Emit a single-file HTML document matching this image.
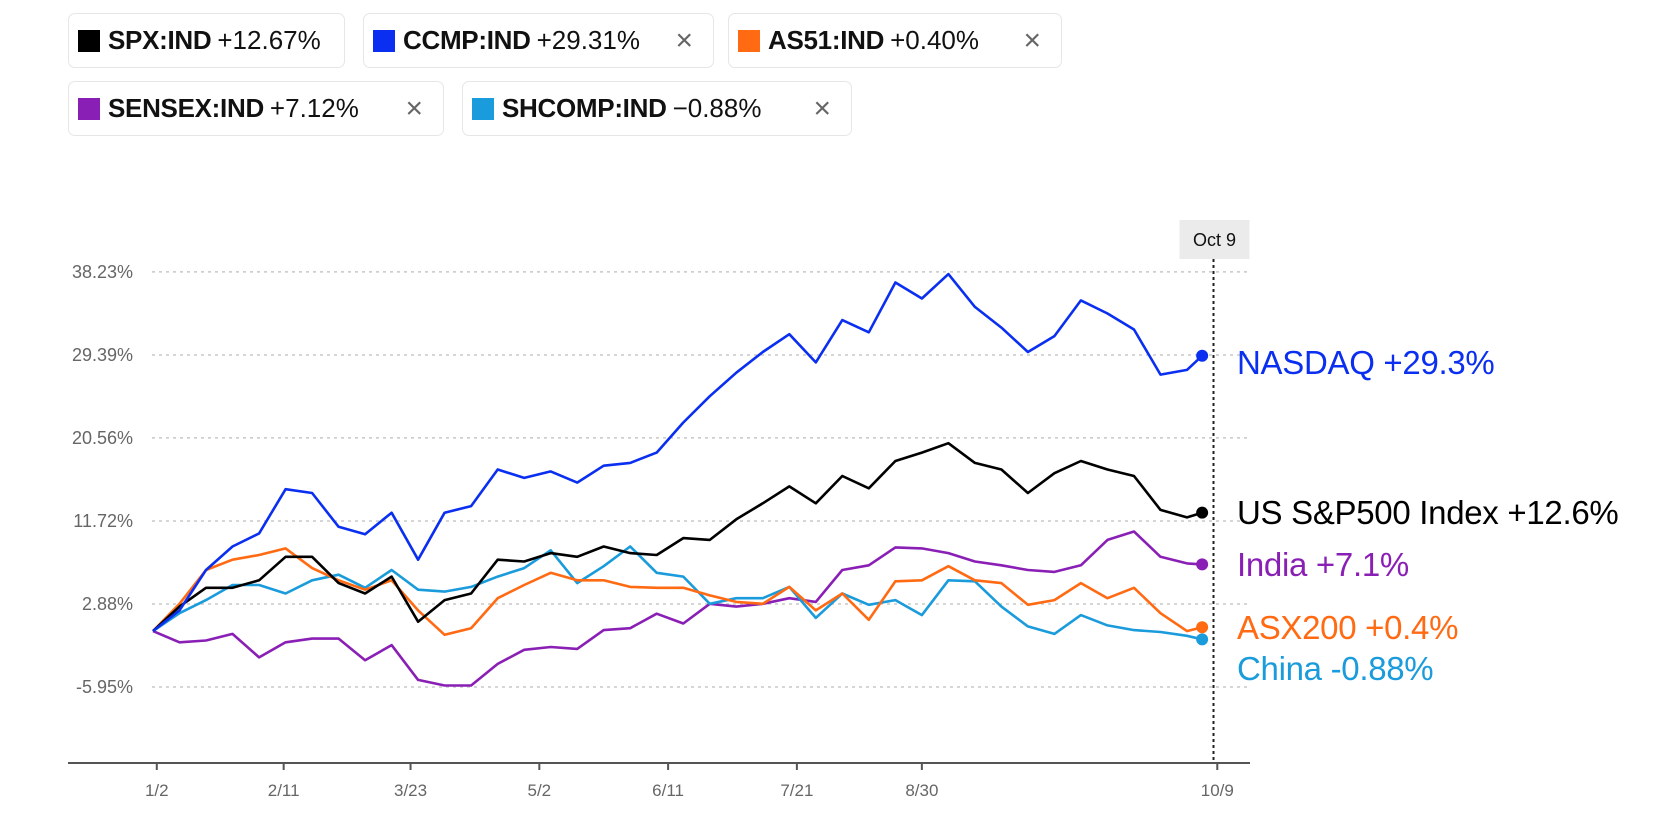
<!DOCTYPE html>
<html><head><meta charset="utf-8">
<style>
body{margin:0;background:#fff;width:1662px;height:814px;overflow:hidden;font-family:"Liberation Sans",sans-serif;position:relative}
.lg{position:absolute;height:55px;border:1px solid #e6e6e6;border-radius:7px;box-sizing:border-box;display:flex;align-items:center;font-size:26px;color:#111;white-space:nowrap}
.sw{width:22px;height:22px;margin:0 8px 0 9px;flex:none}
.lg b{font-weight:bold;letter-spacing:-0.3px}
.lg span.v{margin-left:6px}
.x{position:absolute;right:20px;top:10px;font-size:30px;color:#666;font-weight:normal}
</style></head>
<body>
<div class="lg" style="left:68px;top:13px;width:277px;"><div class="sw" style="background:#000"></div><b>SPX:IND</b><span class="v">+12.67%</span></div>
<div class="lg" style="left:363px;top:13px;width:351px;"><div class="sw" style="background:#0a2ff0"></div><b>CCMP:IND</b><span class="v">+29.31%</span><span class="x">×</span></div>
<div class="lg" style="left:728px;top:13px;width:334px;"><div class="sw" style="background:#ff6a13"></div><b>AS51:IND</b><span class="v">+0.40%</span><span class="x">×</span></div>
<div class="lg" style="left:68px;top:81px;width:376px;"><div class="sw" style="background:#8a1fb5"></div><b>SENSEX:IND</b><span class="v">+7.12%</span><span class="x">×</span></div>
<div class="lg" style="left:462px;top:81px;width:390px;"><div class="sw" style="background:#1a9bdb"></div><b>SHCOMP:IND</b><span class="v">−0.88%</span><span class="x">×</span></div>

<svg id="chart" width="1662" height="814" style="position:absolute;left:0;top:0" xmlns="http://www.w3.org/2000/svg"></svg>

<script>
const days = [0,7,14,21,28,35,42,49,56,63,70,77,84,91,98,105,112,119,126,133,140,147,154,161,168,175,182,189,196,203,210,217,224,231,238,245,252,259,266,273,277];
const yTicks = [-5.95, 2.88, 11.72, 20.56, 29.39, 38.23];
const xTickDays = [1,34.5,68,102,136,170,203,281];
const xTickLabels = ["1/2","2/11","3/23","5/2","6/11","7/21","8/30","10/9"];
const nasdaq = [0,2.2,6.5,9.0,10.4,15.1,14.7,11.1,10.3,12.6,7.6,12.6,13.3,17.2,16.3,17.0,15.8,17.6,17.9,19.0,22.2,25.0,27.5,29.7,31.6,28.6,33.1,31.8,37.1,35.4,38.0,34.5,32.3,29.7,31.4,35.2,33.8,32.1,27.3,27.8,29.3];
const spx = [0,2.6,4.6,4.6,5.4,7.9,7.9,5.1,4.0,5.8,1.0,3.3,4.0,7.6,7.4,8.3,7.9,9.0,8.3,8.1,9.9,9.7,11.9,13.6,15.4,13.6,16.5,15.2,18.1,19.0,20.0,17.9,17.2,14.7,16.8,18.1,17.2,16.5,12.9,12.1,12.6];
const asx = [0,2.9,6.5,7.6,8.1,8.8,6.7,5.4,4.4,5.4,2.2,-0.4,0.3,3.5,4.9,6.2,5.4,5.4,4.7,4.6,4.6,3.8,3.1,2.9,4.7,2.2,4.0,1.2,5.3,5.4,6.9,5.4,5.1,2.8,3.3,5.1,3.5,4.6,1.9,0.0,0.4];
const china = [0,1.9,3.3,4.9,4.9,4.0,5.4,6.0,4.6,6.5,4.4,4.2,4.7,5.8,6.7,8.6,5.1,6.9,9.0,6.2,5.8,2.9,3.5,3.5,4.7,1.4,4.0,2.8,3.3,1.7,5.4,5.3,2.6,0.5,-0.3,1.7,0.6,0.1,-0.1,-0.5,-0.88];
const india = [0,-1.2,-1.0,-0.3,-2.8,-1.2,-0.8,-0.8,-3.1,-1.5,-5.2,-5.8,-5.8,-3.5,-2.0,-1.7,-1.9,0.1,0.3,1.85,0.8,2.9,2.6,2.9,3.5,3.1,6.5,7.0,8.9,8.8,8.3,7.4,7.0,6.5,6.3,7.0,9.7,10.6,7.9,7.2,7.1];
const seriesNames = ["nasdaq","spx","india","asx","china"];
const seriesLabels = ["NASDAQ +29.3%","US S&P500 Index +12.6%","India +7.1%","ASX200 +0.4%","China -0.88%"];

const svg = document.getElementById('chart');
const NS = 'http://www.w3.org/2000/svg';
const X = d => 153 + d * 151.5 / 40;
const Y = v => 604 - (v - 2.88) * (83.0 / 8.835);
function mk(tag, attrs, parent) {
  const e = document.createElementNS(NS, tag);
  for (const k in attrs) e.setAttribute(k, attrs[k]);
  (parent || svg).appendChild(e);
  return e;
}
yTicks.forEach(t => {
  const g = mk('line', {x1: 152, x2: 1250, y1: Y(t), y2: Y(t), stroke: '#c8c8c8', 'stroke-width': 1.5, 'stroke-dasharray': '3 4'});
  
  
  const l = mk('text', {x: 133, y: Y(t) + 6, 'text-anchor': 'end', 'font-size': 18, fill: '#666', 'font-family': 'Liberation Sans, sans-serif'});
  l.textContent = t.toFixed(2) + '%';
  
  
});
const ax = mk('line', {x1: 68, x2: 1250, y1: 763, y2: 763, stroke: '#555', 'stroke-width': 2});


xTickDays.forEach((d, i) => {
  const t = mk('line', {x1: X(d), x2: X(d), y1: 763, y2: 770, stroke: '#555', 'stroke-width': 2});
  
  
  const l = mk('text', {x: X(d), y: 796, 'text-anchor': 'middle', 'font-size': 17, fill: '#666', 'font-family': 'Liberation Sans, sans-serif'});
  l.textContent = xTickLabels[i];
  
  
});
const cx = X(280);
const cl = mk('line', {x1: cx, x2: cx, y1: 259, y2: 763, stroke: '#222', 'stroke-width': 2, 'stroke-dasharray': '3 3'});


const tag = mk('rect', {x: cx - 34, y: 220, width: 70, height: 39, fill: '#ebebeb'});


const tt = mk('text', {x: cx + 1, y: 246, 'text-anchor': 'middle', 'font-size': 18, fill: '#111', 'font-family': 'Liberation Sans, sans-serif'});
tt.textContent = 'Oct 9';



const data = {nasdaq, spx, india, asx, china};
const colors = {nasdaq: '#0a2ff0', spx: '#000000', india: '#8a1fb5', asx: '#ff6a13', china: '#1a9bdb'};
const labelY = {nasdaq: 362, spx: 512, india: 564, asx: 627, china: 668};
['india','china','asx','spx','nasdaq'].forEach(n => {
  const vals = data[n];
  const pts = vals.map((v, i) => X(days[i]).toFixed(1) + ',' + Y(v).toFixed(1)).join(' ');
  const p = mk('polyline', {points: pts, fill: 'none', stroke: colors[n], 'stroke-width': 2.6, 'stroke-linejoin': 'round'});
  
  
  const last = vals.length - 1;
  const c = mk('circle', {cx: X(days[last]), cy: Y(vals[last]), r: 6, fill: colors[n]});
  
  
});
seriesNames.forEach((n, i) => {
  const l = mk('text', {x: 1237, y: labelY[n] + 12, 'font-size': 33, fill: colors[n], 'font-family': 'Liberation Sans, sans-serif', 'letter-spacing': '-0.3'});
  l.textContent = seriesLabels[i];
  
  
});
</script>
</body></html>
